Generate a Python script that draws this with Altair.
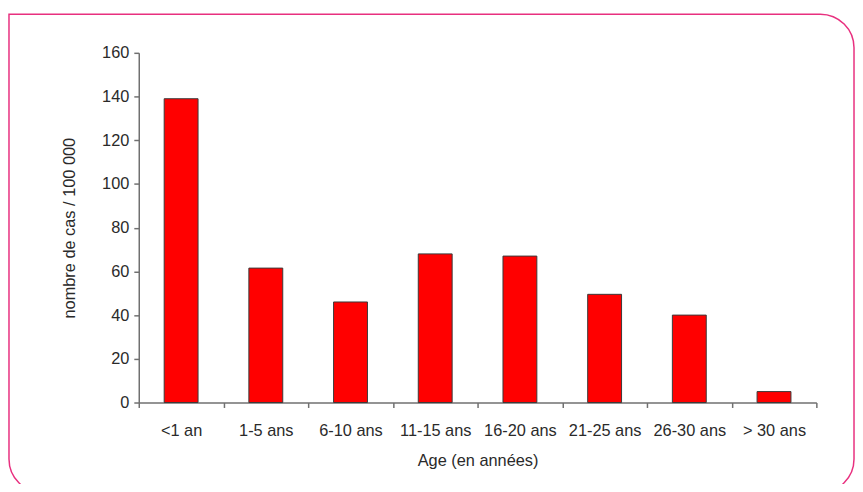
import altair as alt
import pandas as pd

categories = ["<1 an", "1-5 ans", "6-10 ans", "11-15 ans", "16-20 ans", "21-25 ans", "26-30 ans", "> 30 ans"]
values = [139, 61.5, 46, 68, 67, 49.5, 40, 5]

df = pd.DataFrame({"age": categories, "cas": values})

FONT = "Liberation Sans"
FS = 16.5
W, H = 684, 353

border = alt.Chart(pd.DataFrame({"d": [0]})).mark_rect(
    fill=None, stroke="#e8307f", strokeWidth=1.5,
    cornerRadiusTopLeft=0, cornerRadiusTopRight=34,
    cornerRadiusBottomLeft=34, cornerRadiusBottomRight=34
).encode(
    x=alt.value(-131), x2=alt.value(722), y=alt.value(-39), y2=alt.value(444)
)

bars = alt.Chart(df).mark_bar(
    color="#ff0000", stroke="#3a3a3a", strokeWidth=1,
    width=alt.RelativeBandSize(0.4)
).encode(
    x=alt.X("age:N", sort=categories, title="Age (en années)",
            scale=alt.Scale(paddingInner=0, paddingOuter=0),
            axis=alt.Axis(labelAngle=0, tickBand="extent", labelFont=FONT, labelFontSize=FS,
                          labelColor="#2a2a2a", titleFont=FONT, titleFontSize=FS,
                          titleFontWeight="normal", titleColor="#2a2a2a", titlePadding=14,
                          domainColor="#707070", domainWidth=1.5, tickColor="#707070",
                          tickWidth=1.5, tickSize=5, labelPadding=15)),
    y=alt.Y("cas:Q", title="nombre de cas / 100 000",
            scale=alt.Scale(domain=[0, 160], nice=False),
            axis=alt.Axis(values=list(range(0, 161, 20)), grid=False, labelFont=FONT,
                          labelFontSize=FS, labelColor="#2a2a2a", titleFont=FONT,
                          titleFontSize=FS, titleFontWeight="normal", titleColor="#2a2a2a",
                          titlePadding=24, domainColor="#707070", domainWidth=1.5,
                          tickColor="#707070", tickWidth=1.5, tickSize=5, labelPadding=5)),
)

chart = alt.layer(border, bars).properties(
    width=W, height=H,
    background="white",
    autosize=alt.AutoSizeParams(type="none"),
    padding={"left": 132, "top": 43, "right": 39, "bottom": 80},
).configure_view(strokeWidth=0, stroke="transparent")

chart.save("out.html", embed_options={"renderer": "svg", "actions": False})
